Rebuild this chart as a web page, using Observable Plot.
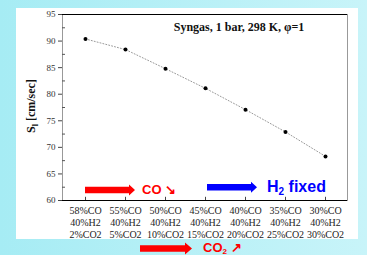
<!DOCTYPE html>
<html><head><meta charset="utf-8">
<script src="https://cdn.jsdelivr.net/npm/d3@7"></script>
<script src="https://cdn.jsdelivr.net/npm/@observablehq/plot@0.6"></script>
<style>
html,body{margin:0;padding:0;}
body{width:367px;height:255px;overflow:hidden;position:relative;background:linear-gradient(to right,#a6ecf4,#c8f4f9);}
#panel{position:absolute;left:16px;top:8px;width:342px;height:231px;background:#fff;}
#chart{position:absolute;left:0;top:0;}
#overlay{position:absolute;left:0;top:0;}
</style></head><body>
<div id="panel"></div>
<div id="chart"></div>
<svg id="overlay" width="367" height="255"></svg>
<script>
// ---- data ----
const coPct  = [58, 55, 50, 45, 40, 35, 30];
const h2Pct  = [40, 40, 40, 40, 40, 40, 40];
const co2Pct = [2, 5, 10, 15, 20, 25, 30];
const speed  = [90.4, 88.4, 84.8, 81.1, 77.1, 72.9, 68.3];
const yTicks = [60, 65, 70, 75, 80, 85, 90, 95];
const yMinor = [62.5, 67.5, 72.5, 77.5, 82.5, 87.5, 92.5];
const titleText = "Syngas, 1 bar, 298 K, \u03C6=1";
const yLabelMain = "S";
const yLabelSub = "l";
const yLabelRest = " [cm/sec]";
const annCO = "CO \u2198";
const annH2 = ["H", "2", " fixed"];
const annCO2 = ["CO", "2", " \u2197"];

const cats = coPct.map((c, i) => `${c}%CO\n${h2Pct[i]}%H2\n${co2Pct[i]}%CO2`);
const data = cats.map((c, i) => ({cat: c, v: speed[i]}));

const chart = Plot.plot({
  width: 367,
  height: 239,
  marginTop: 14,
  marginBottom: 39,
  marginLeft: 62,
  marginRight: 20,
  style: {background: "transparent", overflow: "hidden", fontFamily: "'Liberation Serif', serif", fontSize: "10px", color: "#222"},
  x: {type: "point", domain: cats, padding: 0.5},
  y: {domain: [60, 95]},
  marks: [
    Plot.frame({stroke: "#999"}),
    Plot.ruleY([60, 95], {stroke: "#000", strokeWidth: 1.2}),
    Plot.ruleY(yMinor, {stroke: "#555", insetRight: 282}),
    Plot.ruleX(cats, {y1: 60, y2: 60.6, stroke: "#444"}),
    Plot.axisY({ticks: yTicks, tickSize: 4, tickPadding: 3, fontSize: 9, label: null, fill: "#333", stroke: "#444"}),
    Plot.axisX({tickSize: 0, tickPadding: 5, label: null, lineHeight: 1.2, fill: "#222"}),
    Plot.line(data, {x: "cat", y: "v", stroke: "#999", strokeWidth: 1, strokeDasharray: "1,2"}),
    Plot.dot(data, {x: "cat", y: "v", r: 2, fill: "#000"}),
    Plot.text([titleText], {frameAnchor: "top", dx: 34, dy: 13, lineAnchor: "middle", fontSize: 12, fontWeight: "bold", fill: "#111"})
  ]
});
document.getElementById("chart").appendChild(chart);

// ---- annotations (decorative arrows and notes) ----
const ns = "http://www.w3.org/2000/svg";
const ov = document.getElementById("overlay");
function el(tag, attrs, parent) {
  const e = document.createElementNS(ns, tag);
  for (const k in attrs) e.setAttribute(k, attrs[k]);
  (parent || ov).appendChild(e);
  return e;
}
function blockArrow(x0, x1, yc, shaft, head, headLen, color) {
  const hs = shaft / 2, hh = head / 2, xh = x1 - headLen;
  el("polygon", {points: `${x0},${yc - hs} ${xh},${yc - hs} ${xh},${yc - hh} ${x1},${yc} ${xh},${yc + hh} ${xh},${yc + hs} ${x0},${yc + hs}`, fill: color});
}
blockArrow(85, 135, 190, 6.6, 11, 6, "#ff0000");
blockArrow(207, 257, 187.3, 6.6, 11, 6, "#0000ff");
blockArrow(140, 192, 248.5, 6.6, 12, 7, "#ff0000");

const sans = "'Liberation Sans', Arial, sans-serif";
el("text", {x: 142, y: 193.5, fill: "#ff0000", "font-family": sans, "font-weight": "bold", "font-size": 13}).textContent = annCO;

const t2 = el("text", {x: 267, y: 192.3, fill: "#0000ff", "font-family": sans, "font-weight": "bold", "font-size": 16});
el("tspan", {}, t2).textContent = annH2[0];
el("tspan", {"font-size": 10, dy: 3}, t2).textContent = annH2[1];
el("tspan", {dy: -3}, t2).textContent = annH2[2];

const t3 = el("text", {x: 203, y: 252, fill: "#ff0000", "font-family": sans, "font-weight": "bold", "font-size": 13});
el("tspan", {}, t3).textContent = annCO2[0];
el("tspan", {"font-size": 8, dy: 1.5}, t3).textContent = annCO2[1];
el("tspan", {dy: -1.5}, t3).textContent = annCO2[2];

const yl = el("text", {transform: "translate(35,106) rotate(-90)", "text-anchor": "middle", fill: "#111", "font-family": "'Liberation Serif', serif", "font-size": 12, "font-weight": "bold"});
el("tspan", {}, yl).textContent = yLabelMain;
el("tspan", {"font-size": 8, dy: 2.5}, yl).textContent = yLabelSub;
el("tspan", {dy: -2.5}, yl).textContent = yLabelRest;
</script>
</body></html>
